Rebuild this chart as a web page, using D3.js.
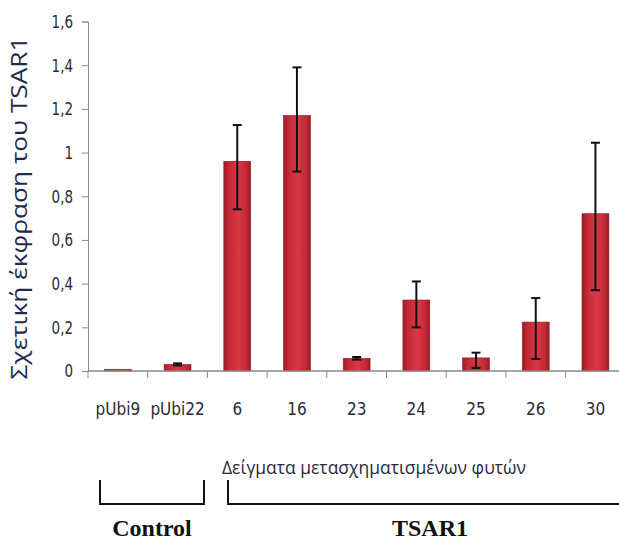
<!DOCTYPE html>
<html><head><meta charset="utf-8">
<script src="https://cdn.jsdelivr.net/npm/d3@7/dist/d3.min.js"></script>
<style>
html,body{margin:0;padding:0;background:#fff;}
svg{display:block;}
</style></head>
<body>
<svg id="chart" width="619" height="541"></svg>
<script>
const categories = ["pUbi9","pUbi22","6","16","23","24","25","26","30"];
const values     = [0.008, 0.03, 0.96, 1.17, 0.058, 0.325, 0.06, 0.224, 0.72];
const errHigh    = [0.0,   0.005, 0.166, 0.22, 0.006, 0.085, 0.024, 0.11, 0.325];
const errLow     = [0.0,   0.005, 0.22,  0.257, 0.006, 0.125, 0.046, 0.169, 0.35];
const yTicks     = [0,0.2,0.4,0.6,0.8,1,1.2,1.4,1.6];
const yTitle = "Σχετική έκφραση του TSAR1";
const xTitle = "Δείγματα μετασχηματισμένων φυτών";
const groups = [
  {label:"Control", x0:100, x1:204, tx:152},
  {label:"TSAR1",  x0:228, x1:619, tx:430}
];

const svg = d3.select("#chart");
const x0 = 88, y0 = 371, yTop = 21.5, step = 59.7;
const x = d3.scaleBand().domain(categories)
  .range([x0, x0 + step*categories.length])
  .paddingInner(0.55).paddingOuter(0.275);
const y = d3.scaleLinear().domain([0,1.6]).range([y0, yTop]);

const defs = svg.append("defs");
const grad = defs.append("linearGradient").attr("id","barGrad")
  .attr("x1","0%").attr("x2","100%").attr("y1","0%").attr("y2","0%");
grad.append("stop").attr("offset","0%").attr("stop-color","#a01b27");
grad.append("stop").attr("offset","20%").attr("stop-color","#c42a36");
grad.append("stop").attr("offset","55%").attr("stop-color","#d93845");
grad.append("stop").attr("offset","85%").attr("stop-color","#c02934");
grad.append("stop").attr("offset","100%").attr("stop-color","#981a24");

const font = "'DejaVu Sans Condensed','DejaVu Sans',sans-serif";

// bars
svg.append("g").selectAll("rect").data(categories).join("rect")
  .attr("x", d => x(d))
  .attr("y", (d,i) => y(values[i]))
  .attr("width", x.bandwidth())
  .attr("height", (d,i) => y0 - y(values[i]))
  .attr("fill","url(#barGrad)")
  .attr("stroke","#8e1a22").attr("stroke-width",0.6);

// error bars
const eb = svg.append("g").attr("stroke","#111").attr("stroke-width",2);
categories.forEach((c,i) => {
  if (errHigh[i] <= 0 && errLow[i] <= 0) return;
  const cx = x(c) + x.bandwidth()/2;
  const yh = y(values[i] + errHigh[i]), yl = y(values[i] - errLow[i]);
  eb.append("line").attr("x1",cx).attr("x2",cx).attr("y1",yh).attr("y2",yl);
  eb.append("line").attr("x1",cx-4.5).attr("x2",cx+4.5).attr("y1",yh).attr("y2",yh);
  eb.append("line").attr("x1",cx-4.5).attr("x2",cx+4.5).attr("y1",yl).attr("y2",yl);
});

// y axis
const yAxis = svg.append("g").attr("transform",`translate(${x0},0)`)
  .call(d3.axisLeft(y).tickValues(yTicks).tickSize(6).tickPadding(9)
    .tickFormat(d => String(+d.toFixed(1)).replace(".",",")));
yAxis.select(".domain").attr("stroke","#8a8a8a");
yAxis.selectAll(".tick line").attr("stroke","#8a8a8a");
yAxis.selectAll("text").attr("font-family",font)
  .attr("font-size",15).attr("fill","#2a2a3a")
  .attr("dy",null).attr("dominant-baseline","central")
  .attr("transform","scale(1,1.2)");

// x axis
const xAxis = svg.append("g").attr("transform",`translate(0,${y0})`)
  .call(d3.axisBottom(x).tickSize(0).tickPadding(32));
xAxis.select(".domain").remove();
xAxis.append("line").attr("x1",x0).attr("x2",619).attr("y1",0).attr("y2",0)
  .attr("stroke","#8a8a8a").attr("stroke-width",1.5);
xAxis.selectAll(".tick text").attr("font-family",font)
  .attr("font-size",17).attr("fill","#2a2a3a");
// category boundary ticks
xAxis.append("g").selectAll("line").data(categories).join("line")
  .attr("x1", d => x(d) - x.step()*x.paddingInner()/2)
  .attr("x2", d => x(d) - x.step()*x.paddingInner()/2)
  .attr("y1",0).attr("y2",7).attr("stroke","#8a8a8a");

// axis titles
svg.append("text").attr("transform","translate(21,208) rotate(-90)")
  .attr("text-anchor","middle").attr("dominant-baseline","middle")
  .attr("font-family","'Open Sans',sans-serif").attr("font-size",21)
  .attr("fill","#1e2a48").attr("textLength",343).attr("lengthAdjust","spacingAndGlyphs")
  .text(yTitle);
svg.append("text").attr("x",374).attr("y",474)
  .attr("text-anchor","middle")
  .attr("font-family","'Open Sans',sans-serif").attr("font-size",19)
  .attr("fill","#2a2a3a").attr("textLength",304).attr("lengthAdjust","spacingAndGlyphs")
  .text(xTitle);

// group brackets
const br = svg.append("g");
groups.forEach(g => {
  br.append("path")
    .attr("d", `M${g.x0},480 V504 H${g.x1}` + (g.x1 < 619 ? ` V480` : ""))
    .attr("fill","none").attr("stroke","#111").attr("stroke-width",2);
  br.append("text").attr("x",g.tx).attr("y",536).attr("text-anchor","middle")
    .attr("font-family","'Liberation Serif',serif").attr("font-weight","bold")
    .attr("font-size",24).attr("fill","#111").text(g.label);
});
</script>
</body></html>
